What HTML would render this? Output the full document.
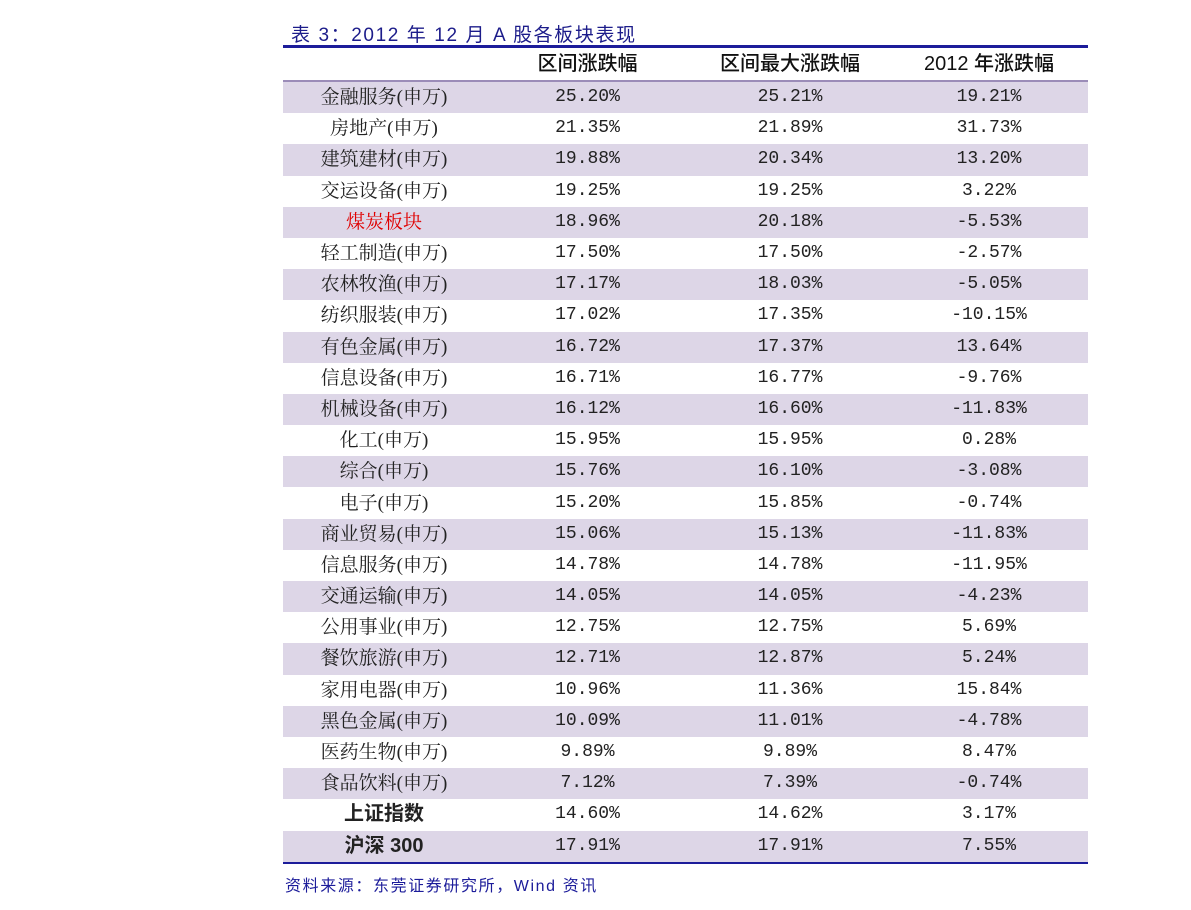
<!DOCTYPE html>
<html><head><meta charset="utf-8"><style>
body{margin:0;width:1191px;height:910px;background:#fff;position:relative;overflow:hidden}
.title{position:absolute;left:291px;top:20px;font:19px "Liberation Sans","Noto Sans CJK SC",sans-serif;letter-spacing:1.6px;color:#1c1c8a;white-space:nowrap}
.topline{position:absolute;left:283px;top:45px;width:805px;height:3px;background:#1c1c9a}
table{position:absolute;left:283px;top:48px;width:805px;border-collapse:collapse;table-layout:fixed}
td{height:31.2px;line-height:31px;padding:0;text-align:center;vertical-align:middle;font:18px/31px "Liberation Mono","Noto Serif CJK SC",serif;color:#222;white-space:nowrap}
td.n{font:19px/31px "Liberation Serif","Noto Serif CJK SC",serif}
tr.s td{background:#ddd6e7}
tr.h td{height:32px;font:20px/32px "Liberation Sans","Noto Sans CJK SC",sans-serif;font-weight:500;color:#111;border-bottom:2px solid #9b8cb8}
td.b{font:bold 20px/31px "Liberation Sans","Noto Sans CJK SC",sans-serif}
.botline{position:absolute;left:283px;top:862px;width:805px;height:2px;background:#1c1c9a}
.src{position:absolute;left:285px;top:872px;font:16px "Liberation Sans","Noto Sans CJK SC",sans-serif;letter-spacing:1.6px;color:#1c1c9a;white-space:nowrap}
</style></head><body>
<div class="title">表 3：2012 年 12 月 A 股各板块表现</div>
<div class="topline"></div>
<table>
<colgroup><col style="width:202px"><col style="width:205px"><col style="width:200px"><col style="width:198px"></colgroup>
<tr class="h"><td></td><td>区间涨跌幅</td><td>区间最大涨跌幅</td><td>2012 年涨跌幅</td></tr>
<tbody id="tb"></tbody>
</table>
<div class="botline"></div>
<div class="src">资料来源：东莞证券研究所，Wind 资讯</div>
<script>
const sectors=["金融服务(申万)","房地产(申万)","建筑建材(申万)","交运设备(申万)","煤炭板块","轻工制造(申万)","农林牧渔(申万)","纺织服装(申万)","有色金属(申万)","信息设备(申万)","机械设备(申万)","化工(申万)","综合(申万)","电子(申万)","商业贸易(申万)","信息服务(申万)","交通运输(申万)","公用事业(申万)","餐饮旅游(申万)","家用电器(申万)","黑色金属(申万)","医药生物(申万)","食品饮料(申万)","上证指数","沪深 300"];
const rangeChg=["25.20%","21.35%","19.88%","19.25%","18.96%","17.50%","17.17%","17.02%","16.72%","16.71%","16.12%","15.95%","15.76%","15.20%","15.06%","14.78%","14.05%","12.75%","12.71%","10.96%","10.09%","9.89%","7.12%","14.60%","17.91%"];
const maxChg=["25.21%","21.89%","20.34%","19.25%","20.18%","17.50%","18.03%","17.35%","17.37%","16.77%","16.60%","15.95%","16.10%","15.85%","15.13%","14.78%","14.05%","12.75%","12.87%","11.36%","11.01%","9.89%","7.39%","14.62%","17.91%"];
const yearChg=["19.21%","31.73%","13.20%","3.22%","-5.53%","-2.57%","-5.05%","-10.15%","13.64%","-9.76%","-11.83%","0.28%","-3.08%","-0.74%","-11.83%","-11.95%","-4.23%","5.69%","5.24%","15.84%","-4.78%","8.47%","-0.74%","3.17%","7.55%"];
const tb=document.getElementById('tb');
sectors.forEach((s,i)=>{
  const tr=document.createElement('tr');
  
  
  if(i%2===0)tr.className='s';
  const c0=document.createElement('td');
  
  
  c0.textContent=s;
  c0.className=i>=23?'b':'n';
  if(i===4)c0.style.color='#e00000';
  tr.appendChild(c0);
  [rangeChg[i],maxChg[i],yearChg[i]].forEach((v,j)=>{
    const td=document.createElement('td');
    
    
    td.textContent=v;
    tr.appendChild(td);
  });
  tb.appendChild(tr);
});
</script>
</body></html>
